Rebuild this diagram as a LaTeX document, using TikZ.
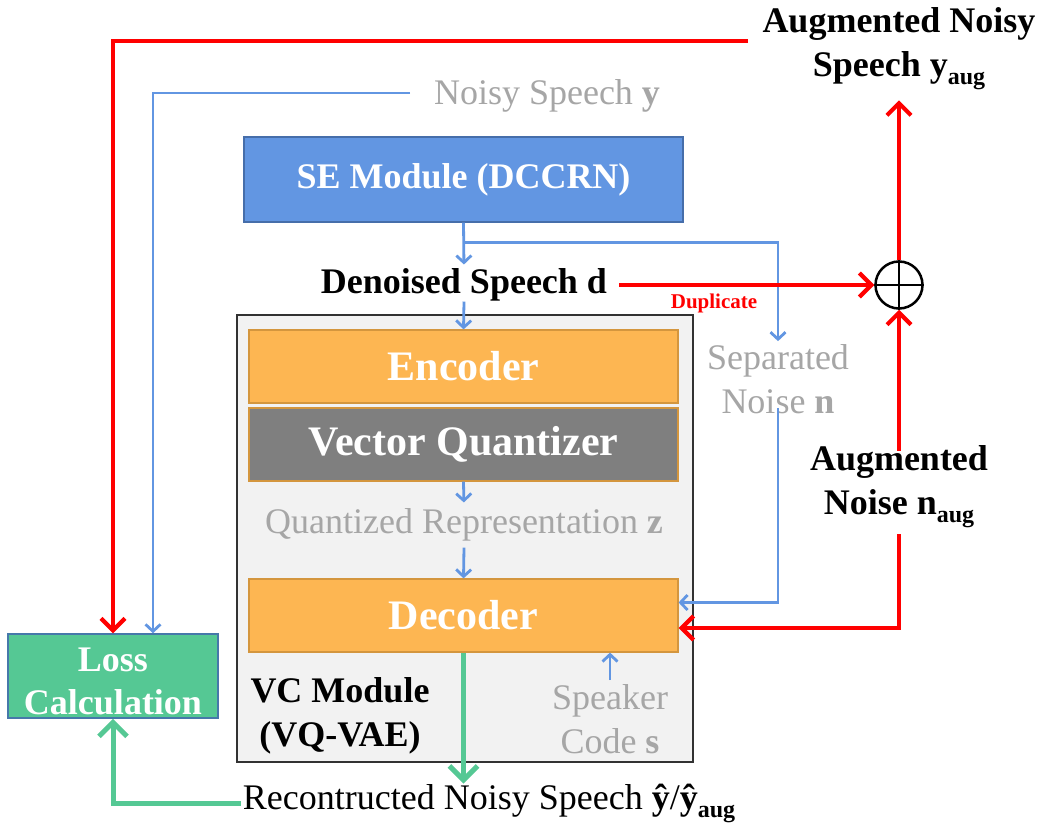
\documentclass[tikz,border=0pt]{standalone}
\usepackage{fontspec}
\setmainfont{Liberation Serif}
\usetikzlibrary{arrows.meta}
\definecolor{seblue}{RGB}{98,150,226}
\definecolor{seedge}{RGB}{70,110,170}
\definecolor{orangebox}{RGB}{253,182,82}
\definecolor{orangeedge}{RGB}{212,150,62}
\definecolor{vqgrey}{RGB}{127,127,127}
\definecolor{lossgreen}{RGB}{85,200,148}
\definecolor{lossedge}{RGB}{70,120,170}
\definecolor{txtgrey}{RGB}{166,166,166}
\definecolor{redline}{RGB}{255,0,0}
\definecolor{blueline}{RGB}{98,150,226}
\definecolor{vcfill}{RGB}{242,242,242}
\definecolor{vcedge}{RGB}{50,50,50}
\newcommand{\subaug}{\raisebox{-0.22em}{\fontsize{24}{24}\selectfont\bfseries aug}}
\begin{document}
\begin{tikzpicture}[x=1pt,y=-1pt,
  big/.style={font=\fontsize{36}{44}\selectfont, inner sep=0pt, align=center},
  bigb/.style={big, font=\fontsize{36}{44}\selectfont\bfseries},
  huge/.style={font=\fontsize{42}{46}\selectfont\bfseries, text=white},
  blk/.style={draw=orangeedge, line width=1.2pt, fill=orangebox, minimum width=429pt, minimum height=73pt, huge},
  bluearr/.style={draw=blueline, line width=2.8pt, -{Straight Barb[length=7pt,width=15pt]}},
  redarr/.style={draw=redline, line width=4.2pt, -{Straight Barb[length=12pt,width=24pt]}},
  greenarr/.style={draw=lossgreen, line width=5pt, -{Straight Barb[length=14pt,width=28pt]}},
]
\useasboundingbox (0,0) rectangle (1042,824);
\fill[white] (0,0) rectangle (1042,824);

% VC module background
\node[draw=vcedge, line width=1.5pt, fill=vcfill, minimum width=456pt, minimum height=447pt, inner sep=0pt] (vc) at (465,538.5) {};

% boxes
\node[draw=seedge, line width=1.2pt, fill=seblue, minimum width=439pt, minimum height=85pt, font=\fontsize{36}{40}\selectfont\bfseries, text=white] (se) at (463.5,179.5) {SE Module (DCCRN)};
\node[blk] (enc) at (463.5,366.5) {Encoder};
\node[blk, fill=vqgrey] (vq) at (463.5,444.5) {Vector Quantizer};
\node[blk] (dec) at (463.5,615.5) {Decoder};
\node[draw=lossedge, line width=1.5pt, fill=lossgreen, minimum width=210pt, minimum height=84pt, inner sep=0pt] (loss) at (113,676) {};
\node[inner sep=0pt, align=center, font=\fontsize{36}{43}\selectfont\bfseries, text=white] (losslab) at (113,681) {Loss\\Calculation};

% circle plus
\node[draw=black, line width=2.5pt, circle, minimum size=47pt, inner sep=0pt] (plus) at (899,285) {};
\draw[line width=2.5pt] (plus.north) -- (plus.south) (plus.west) -- (plus.east);

% texts
\node[bigb] (augns) at (899,49) {Augmented Noisy\\Speech y\subaug};
\node[big, text=txtgrey] (noisy) at (547,96) {Noisy Speech \textbf{y}};
\node[bigb] (den) at (464,285) {Denoised Speech d};
\node[font=\fontsize{21}{21}\selectfont\bfseries, text=redline, inner sep=0pt] (dup) at (714,303) {Duplicate};
\node[big, text=txtgrey] (sep) at (778,379) {Separated\\Noise \textbf{n}};
\node[bigb] (augn) at (899,487) {Augmented\\Noise n\subaug};
\node[big, text=txtgrey] (quant) at (464,525) {Quantized Representation \textbf{z}};
\node[bigb] (vclab) at (340,716) {VC Module\\(VQ-VAE)};
\node[big, text=txtgrey] (spk) at (610,719) {Speaker\\Code \textbf{s}};
\node[big] (recon) at (489,803) {Recontructed Noisy Speech \textbf{ŷ}/\textbf{ŷ}\subaug};

% free ends
\coordinate (redstart) at (748,41);
\coordinate (bluestart) at (410,93);

% connectors
\draw[redarr] (redstart) -| (loss.north);
\draw[bluearr] (bluestart) -| ([xshift=40pt]loss.north);
\draw[bluearr, shorten >=4pt] (se.south) -- (den.north);
\draw[bluearr, shorten >=3pt] ([yshift=-20pt]se.south) -| (sep.north);
\draw[bluearr] (den.south) -- (enc.north);
\draw[bluearr] ([yshift=6pt]sep.south) |- ([yshift=13pt]dec.east);
\draw[redarr] ([xshift=12pt,yshift=0pt]den.east) -- (plus.west);
\draw[redarr, shorten >=10pt] (plus.north) -- (augns.south);
\draw[redarr] ([yshift=-5pt]augn.north) -- (plus.south);
\draw[redarr] ([yshift=-6pt]augn.south) |- ([yshift=-12.5pt]dec.east);
\draw[bluearr, shorten >=6pt] (vq.south) -- (quant.north);
\draw[bluearr] ([yshift=-6pt]quant.south) -- (dec.north);
\draw[greenarr] (dec.south) -- (dec.south |- recon.north);
\draw[greenarr] ([xshift=-2pt]recon.west) -| (loss.south);
\draw[bluearr] ([yshift=4pt]spk.north) -- (dec.south -| spk.north);
\end{tikzpicture}
\end{document}
